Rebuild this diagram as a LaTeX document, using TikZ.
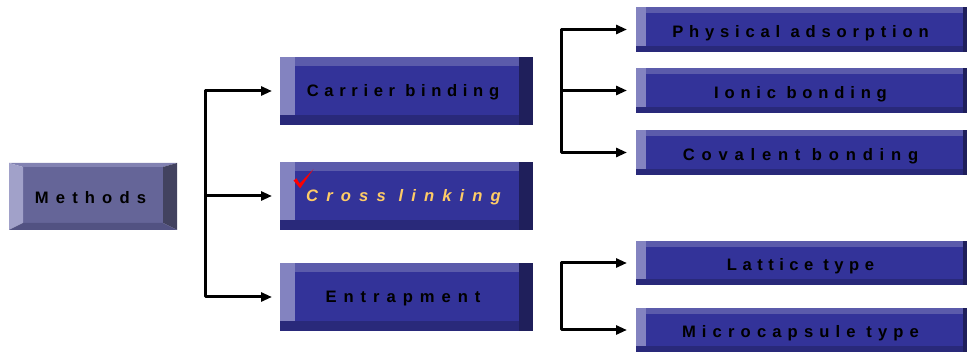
\documentclass[tikz,border=0pt]{standalone}
\usepackage{fontspec}
\setmainfont{Liberation Sans}
\usetikzlibrary{arrows.meta}
\definecolor{bface}{HTML}{333399}
\definecolor{bleft}{HTML}{8383C0}
\definecolor{btop}{HTML}{5B5BAB}
\definecolor{bbot}{HTML}{29297A}
\definecolor{bright}{HTML}{1F1F5B}
\definecolor{mface}{HTML}{656598}
\definecolor{mleft}{HTML}{A1A1C9}
\definecolor{mtop}{HTML}{8282B2}
\definecolor{mbot}{HTML}{525282}
\definecolor{mright}{HTML}{42425F}
\definecolor{gold}{HTML}{FFCC66}
\newcommand\ls[2]{{\addfontfeature{LetterSpace=#1}#2}}
\tikzset{
  boxnode/.style={inner sep=0pt, outer sep=0pt, draw=none},
  boxtext/.style={inner sep=0pt, font=\fontsize{16.6}{18}\selectfont\bfseries, text=black, text height=11.9pt, text depth=0pt},
  conn/.style={line width=3pt, line join=round, draw=black},
  tip/.style={-{Triangle[length=11pt,width=9pt]}},
}
% mid box: name, y1, y2, text
\newcommand\midbox[4]{%
  \fill[bface] (280,#2) rectangle (533,#3);
  \fill[bleft] (280,#2) rectangle (295,{#3-9.5});
  \fill[btop] (295,#2) rectangle (519,{#2+9});
  \fill[bbot] (280,{#3-9.5}) rectangle (519,#3);
  \fill[bright] (519,#2) rectangle (533,#3);
  \node[boxnode, minimum width=253pt, minimum height={#3-#2}] (#1) at (406.5,{(#2+#3)/2}) {};
  \node[boxtext] (#1-t) at (403,{(#2+#3)/2}) {#4};
}
% right box: name, y1, y2, text
\newcommand\rightbox[4]{%
  \fill[bface] (636,#2) rectangle (967,#3);
  \fill[bleft] (636,#2) rectangle (646,{#3-6});
  \fill[btop] (646,#2) rectangle (963,{#2+6});
  \fill[bbot] (636,{#3-6}) rectangle (963,#3);
  \fill[bright] (963,#2) rectangle (967,#3);
  \node[boxnode, minimum width=331pt, minimum height={#3-#2}] (#1) at (801.5,{(#2+#3)/2}) {};
  \node[boxtext] (#1-t) at (800.5,{(#2+#3)/2+1.7}) {#4};
}
\begin{document}
\begin{tikzpicture}[x=1pt,y=-1pt]
\useasboundingbox (0,0) rectangle (967,352);
% Methods box (bevelled)
\fill[mface] (23,167) rectangle (163,223);
\fill[mtop] (9,163) -- (177,163) -- (163,167) -- (23,167) -- cycle;
\fill[mleft] (9,163) -- (23,167) -- (23,223) -- (9,230) -- cycle;
\fill[mright] (177,163) -- (177,230) -- (163,223) -- (163,167) -- cycle;
\fill[mbot] (9,230) -- (177,230) -- (163,223) -- (23,223) -- cycle;
\node[boxnode, minimum width=168pt, minimum height=67pt] (methods) at (93,196.5) {};
\node[boxtext] (methods-t) at (90.5,197.5) {\ls{43}{Methods}};
% middle boxes
\midbox{carrier}{57}{125}{\ls{34}{Carrier binding}}
\midbox{cross}{162}{230}{}
\node[boxtext, text=gold, font=\fontsize{16.6}{18}\selectfont\bfseries\itshape] (cross-t) at (403.5,196) {\ls{49}{Cross linking}};
\fill[red] (293.5,180.5) -- (296.5,178.3) -- (299.6,183.6) -- (313.5,169) -- (300.2,188.3) -- cycle;
\midbox{entrap}{263}{331}{\ls{42}{Entrapment}}
% right boxes
\rightbox{phys}{7}{52}{\ls{35}{Physical adsorption}}
\rightbox{ionic}{68}{113}{\ls{35}{Ionic bonding}}
\rightbox{coval}{130}{175}{\ls{41}{Covalent bonding}}
\rightbox{lattice}{241}{285}{\ls{33}{Lattice type}}
\rightbox{micro}{308}{352}{\ls{37}{Microcapsule type}}
% connectors
\coordinate (j1) at (205,196);
\draw[conn,tip,shorten >=8pt] (j1) |- (carrier.west);
\draw[conn,tip,shorten >=8pt] (j1) -- (cross.west);
\draw[conn,tip,shorten >=8pt] (j1) |- (entrap.west);
\coordinate (j2) at (561,90.5);
\draw[conn,tip,shorten >=9pt] (j2) |- (phys.west);
\draw[conn,tip,shorten >=9pt] (j2) -- (ionic.west);
\draw[conn,tip,shorten >=9pt] (j2) |- (coval.west);
\coordinate (j3) at (561,296);
\draw[conn,tip,shorten >=9pt] (j3) |- (lattice.west);
\draw[conn,tip,shorten >=9pt] (j3) |- (micro.west);
\end{tikzpicture}
\end{document}
